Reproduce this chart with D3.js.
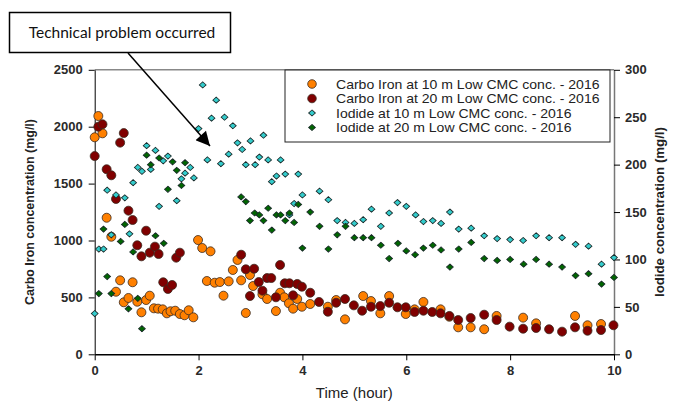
<!DOCTYPE html>
<html>
<head>
<meta charset="utf-8">
<script src="https://cdn.jsdelivr.net/npm/d3@7"></script>
<style>
  body { margin: 0; background: #fff; }
</style>
</head>
<body>
<svg id="chart" width="678" height="401" font-family="Arial, 'Liberation Sans', sans-serif"></svg>
<script>
// data: [time (hour), concentration (mg/l)]
const carbo10 = [[0.00,1907],[0.07,2094],[0.15,1942],[0.23,1200],[0.32,1033],[0.41,550],[0.49,650],[0.56,457],[0.65,495],[0.73,633],[0.82,462],[0.90,369],[0.99,477],[1.06,515],[1.14,404],[1.22,401],[1.31,395],[1.39,360],[1.46,378],[1.55,383],[1.64,354],[1.73,343],[1.81,387],[1.90,325],[1.99,1004],[2.07,934],[2.16,644],[2.23,905],[2.31,629],[2.41,635],[2.48,515],[2.58,641],[2.66,741],[2.75,829],[2.82,650],[2.91,363],[2.99,697],[3.05,600],[3.23,527],[3.32,486],[3.49,380],[3.57,541],[3.65,501],[3.74,448],[3.82,401],[3.90,486],[3.99,418],[4.15,442],[4.49,418],[4.65,477],[4.82,307],[5.17,512],[5.32,468],[5.50,360],[5.67,512],[5.99,354],[6.16,395],[6.33,460],[6.66,395],[6.83,330],[7.00,237],[7.24,237],[7.50,220],[7.74,337],[8.25,322],[8.50,272],[9.25,337],[9.49,255],[9.75,266]];

const carbo20 = [[0.00,1742],[0.07,2000],[0.15,2021],[0.23,1626],[0.32,1573],[0.41,1365],[0.49,1860],[0.56,1944],[0.65,1262],[0.73,1180],[0.82,958],[0.90,861],[0.99,1086],[1.06,893],[1.16,946],[1.23,881],[1.32,633],[1.41,574],[1.49,609],[1.57,849],[1.64,893],[2.82,875],[2.91,747],[2.99,512],[3.07,752],[3.16,635],[3.23,559],[3.32,670],[3.40,670],[3.49,501],[3.57,785],[3.66,624],[3.75,624],[3.82,518],[3.90,618],[3.99,594],[4.15,541],[4.32,460],[4.49,374],[4.65,453],[4.82,486],[4.99,430],[5.15,383],[5.32,418],[5.50,424],[5.67,453],[5.83,413],[5.99,413],[6.16,372],[6.33,383],[6.50,372],[6.66,360],[6.83,337],[7.00,301],[7.24,319],[7.50,348],[7.74,301],[7.99,243],[8.25,225],[8.50,231],[8.75,220],[9.00,199],[9.25,237],[9.49,207],[9.75,213],[9.99,255]];

const iodide10 = [[0.00,43],[0.08,111],[0.17,111],[0.24,173],[0.32,126],[0.41,168],[0.58,165],[0.67,127],[0.74,181],[0.83,197],[0.91,193],[1.00,220],[1.08,195],[1.17,215],[1.24,156],[1.32,204],[1.41,209],[1.58,162],[1.67,185],[1.74,191],[1.84,197],[1.91,186],[2.00,238],[2.08,284],[2.17,205],[2.25,249],[2.34,268],[2.43,201],[2.50,250],[2.58,211],[2.66,241],[2.75,223],[2.84,216],[2.91,200],[3.00,225],[3.09,200],[3.17,208],[3.25,231],[3.34,205],[3.41,182],[3.50,188],[3.58,205],[3.67,190],[3.75,147],[3.84,159],[3.92,190],[4.00,168],[4.33,172],[4.50,163],[4.67,141],[4.83,139],[5.00,138],[5.17,142],[5.33,153],[5.51,135],[5.67,149],[5.83,160],[6.00,156],[6.18,147],[6.33,140],[6.51,141],[6.67,138],[6.84,150],[7.01,132],[7.25,133],[7.50,125],[7.75,122],[8.00,121],[8.25,120],[8.50,125],[8.75,123],[9.00,123],[9.26,116],[9.51,114],[9.76,95],[10.0,102]];

const iodide20 = [[0.08,64],[0.17,132],[0.24,82],[0.32,64],[0.50,119],[0.58,137],[0.65,48],[0.74,108],[0.83,59],[0.91,27],[1.00,210],[1.08,200],[1.17,125],[1.24,207],[1.33,117],[1.41,174],[1.50,203],[1.58,194],[1.67,178],[1.74,202],[2.82,166],[2.91,161],[2.99,141],[3.08,149],[3.17,147],[3.25,141],[3.34,154],[3.41,131],[3.50,147],[3.58,147],[3.67,141],[3.75,149],[3.84,139],[3.92,158],[4.00,112],[4.15,150],[4.33,135],[4.50,111],[4.67,126],[4.83,135],[5.00,123],[5.17,123],[5.33,123],[5.51,115],[5.67,101],[5.84,117],[6.00,109],[6.17,105],[6.33,112],[6.51,115],[6.67,110],[6.84,92],[7.01,111],[7.25,118],[7.50,101],[7.75,99],[8.00,100],[8.26,95],[8.50,100],[8.75,95],[9.00,92],[9.26,83],[9.51,85],[9.76,74],[10.0,81]];

const xTicks = [0, 2, 4, 6, 8, 10];
const leftTicks = [0, 500, 1000, 1500, 2000, 2500];
const rightTicks = [0, 50, 100, 150, 200, 250, 300];

const seriesNames = [
  'Carbo Iron at 10 m Low CMC conc. - 2016',
  'Carbo Iron at 20 m Low CMC conc. - 2016',
  'Iodide at 10 m Low CMC conc. - 2016',
  'Iodide at 20 m Low CMC conc. - 2016'
];
const colors = ['#ff8000', '#800000', '#33cccc', '#006600'];

const svg = d3.select('#chart');

// scales
const x = d3.scaleLinear().domain([0, 10]).range([94.7, 614]);
const yLeft = d3.scaleLinear().domain([0, 2500]).range([354.3, 69.8]);
const yRight = d3.scaleLinear().domain([0, 300]).range([354.3, 69.8]);

// frame top
svg.append('line')
  .attr('x1', x(0)).attr('x2', x(10))
  .attr('y1', yLeft(2500)).attr('y2', yLeft(2500))
  .attr('stroke', '#888').attr('stroke-width', 1.5);

function styleAxis(g) {
  g.attr('font-family', null);
  g.selectAll('text')
    .attr('font-size', '13px')
    .attr('font-weight', 'bold')
    .attr('fill', '#2a2a2a');
  g.selectAll('line, path').attr('stroke', '#000');
}

const fmt = d3.format('d');

svg.append('g')
  .attr('transform', `translate(${x(0)},0)`)
  .call(d3.axisLeft(yLeft).tickValues(leftTicks).tickFormat(fmt).tickSize(6).tickSizeOuter(0).tickPadding(6))
  .call(styleAxis);

svg.append('g')
  .attr('transform', `translate(${x(10)},0)`)
  .call(d3.axisRight(yRight).tickValues(rightTicks).tickFormat(fmt).tickSize(6).tickSizeOuter(0).tickPadding(5))
  .call(styleAxis)
  .call(g => g.select('.domain').attr('stroke', '#777').attr('stroke-width', 1.5));

svg.append('g')
  .attr('transform', `translate(0,${yLeft(0)})`)
  .call(d3.axisBottom(x).tickValues(xTicks).tickFormat(fmt).tickSize(6).tickSizeOuter(0).tickPadding(5))
  .call(styleAxis)
  .call(g => g.select('.domain').attr('stroke-width', 1.5));

// axis titles
const midY = (yLeft(0) + yLeft(2500)) / 2;
svg.append('text')
  .attr('transform', `translate(34,${midY}) rotate(-90)`)
  .attr('text-anchor', 'middle')
  .attr('font-size', '12px')
  .attr('font-weight', 'bold')
  .attr('fill', '#222')
  .attr('textLength', 186)
  .attr('lengthAdjust', 'spacingAndGlyphs')
  .text('Carbo Iron concentration (mg/l)');

svg.append('text')
  .attr('transform', `translate(664,${midY}) rotate(-90)`)
  .attr('text-anchor', 'middle')
  .attr('font-size', '12px')
  .attr('font-weight', 'bold')
  .attr('fill', '#222')
  .attr('textLength', 170)
  .attr('lengthAdjust', 'spacingAndGlyphs')
  .text('Iodide concentration (mg/l)');

svg.append('text')
  .attr('x', (x(0) + x(10)) / 2)
  .attr('y', 398)
  .attr('text-anchor', 'middle')
  .attr('font-size', '15px')
  .attr('fill', '#222')
  .text('Time (hour)');

// marks
const diamond = d3.symbol().type(d3.symbolDiamond).size(22);

function circles(data, yScale, fill) {
  svg.append('g')
    .selectAll('circle')
    .data(data)
    .enter()
    .append('circle')
    .attr('cx', d => x(d[0]))
    .attr('cy', d => yScale(d[1]))
    .attr('r', 4.5)
    .attr('fill', fill)
    .attr('stroke', '#3a2a20')
    .attr('stroke-width', 0.8);
}

function diamonds(data, yScale, fill) {
  svg.append('g')
    .selectAll('path')
    .data(data)
    .enter()
    .append('path')
    .attr('d', diamond)
    .attr('transform', d => `translate(${x(d[0])},${yScale(d[1])}) scale(1.35,0.7)`)
    .attr('fill', fill)
    .attr('stroke', '#1a2a2a')
    .attr('stroke-width', 0.8);
}

circles(carbo10, yLeft, colors[0]);
circles(carbo20, yLeft, colors[1]);
diamonds(iodide10, yRight, colors[2]);
diamonds(iodide20, yRight, colors[3]);

// legend
const legend = svg.append('g');
legend.append('rect')
  .attr('x', 285).attr('y', 70).attr('width', 325).attr('height', 72)
  .attr('fill', '#fff').attr('stroke', '#222').attr('stroke-width', 1);

seriesNames.forEach((name, i) => {
  const ly = 84 + i * 14.5;
  if (i < 2) {
    legend.append('circle')
      .attr('cx', 312).attr('cy', ly).attr('r', 4.3)
      .attr('fill', colors[i]).attr('stroke', '#3a2a20').attr('stroke-width', 0.8);
  } else {
    legend.append('path')
      .attr('d', diamond)
      .attr('transform', `translate(312,${ly}) scale(1.35,0.7)`)
      .attr('fill', colors[i]).attr('stroke', '#1a2a2a').attr('stroke-width', 0.8);
  }
  legend.append('text')
    .attr('transform', `translate(336,${ly + 4.5}) scale(1.08,1)`)
    .attr('font-size', '13px')
    .attr('fill', '#222')
    .text(name);
});

// annotation
svg.append('rect')
  .attr('x', 9.5).attr('y', 12.5).attr('width', 221).attr('height', 40)
  .attr('fill', '#fff').attr('stroke', '#000').attr('stroke-width', 1.5);

svg.append('text')
  .attr('x', 122).attr('y', 38)
  .attr('text-anchor', 'middle')
  .attr('font-size', '15.5px')
  .attr('font-family', 'Lato, "Open Sans", sans-serif')
  .attr('fill', '#111')
  .text('Technical problem occurred');

svg.append('defs').append('marker')
  .attr('id', 'arrow')
  .attr('viewBox', '0 0 10 10')
  .attr('refX', 10).attr('refY', 5)
  .attr('markerWidth', 16).attr('markerHeight', 14)
  .attr('markerUnits', 'userSpaceOnUse')
  .attr('orient', 'auto')
  .append('path')
  .attr('d', 'M0,0 L10,5 L0,10 z')
  .attr('fill', '#000');

svg.append('line')
  .attr('x1', 128).attr('y1', 53)
  .attr('x2', 210).attr('y2', 146)
  .attr('stroke', '#000').attr('stroke-width', 1.5)
  .attr('marker-end', 'url(#arrow)');
</script>
</body>
</html>
